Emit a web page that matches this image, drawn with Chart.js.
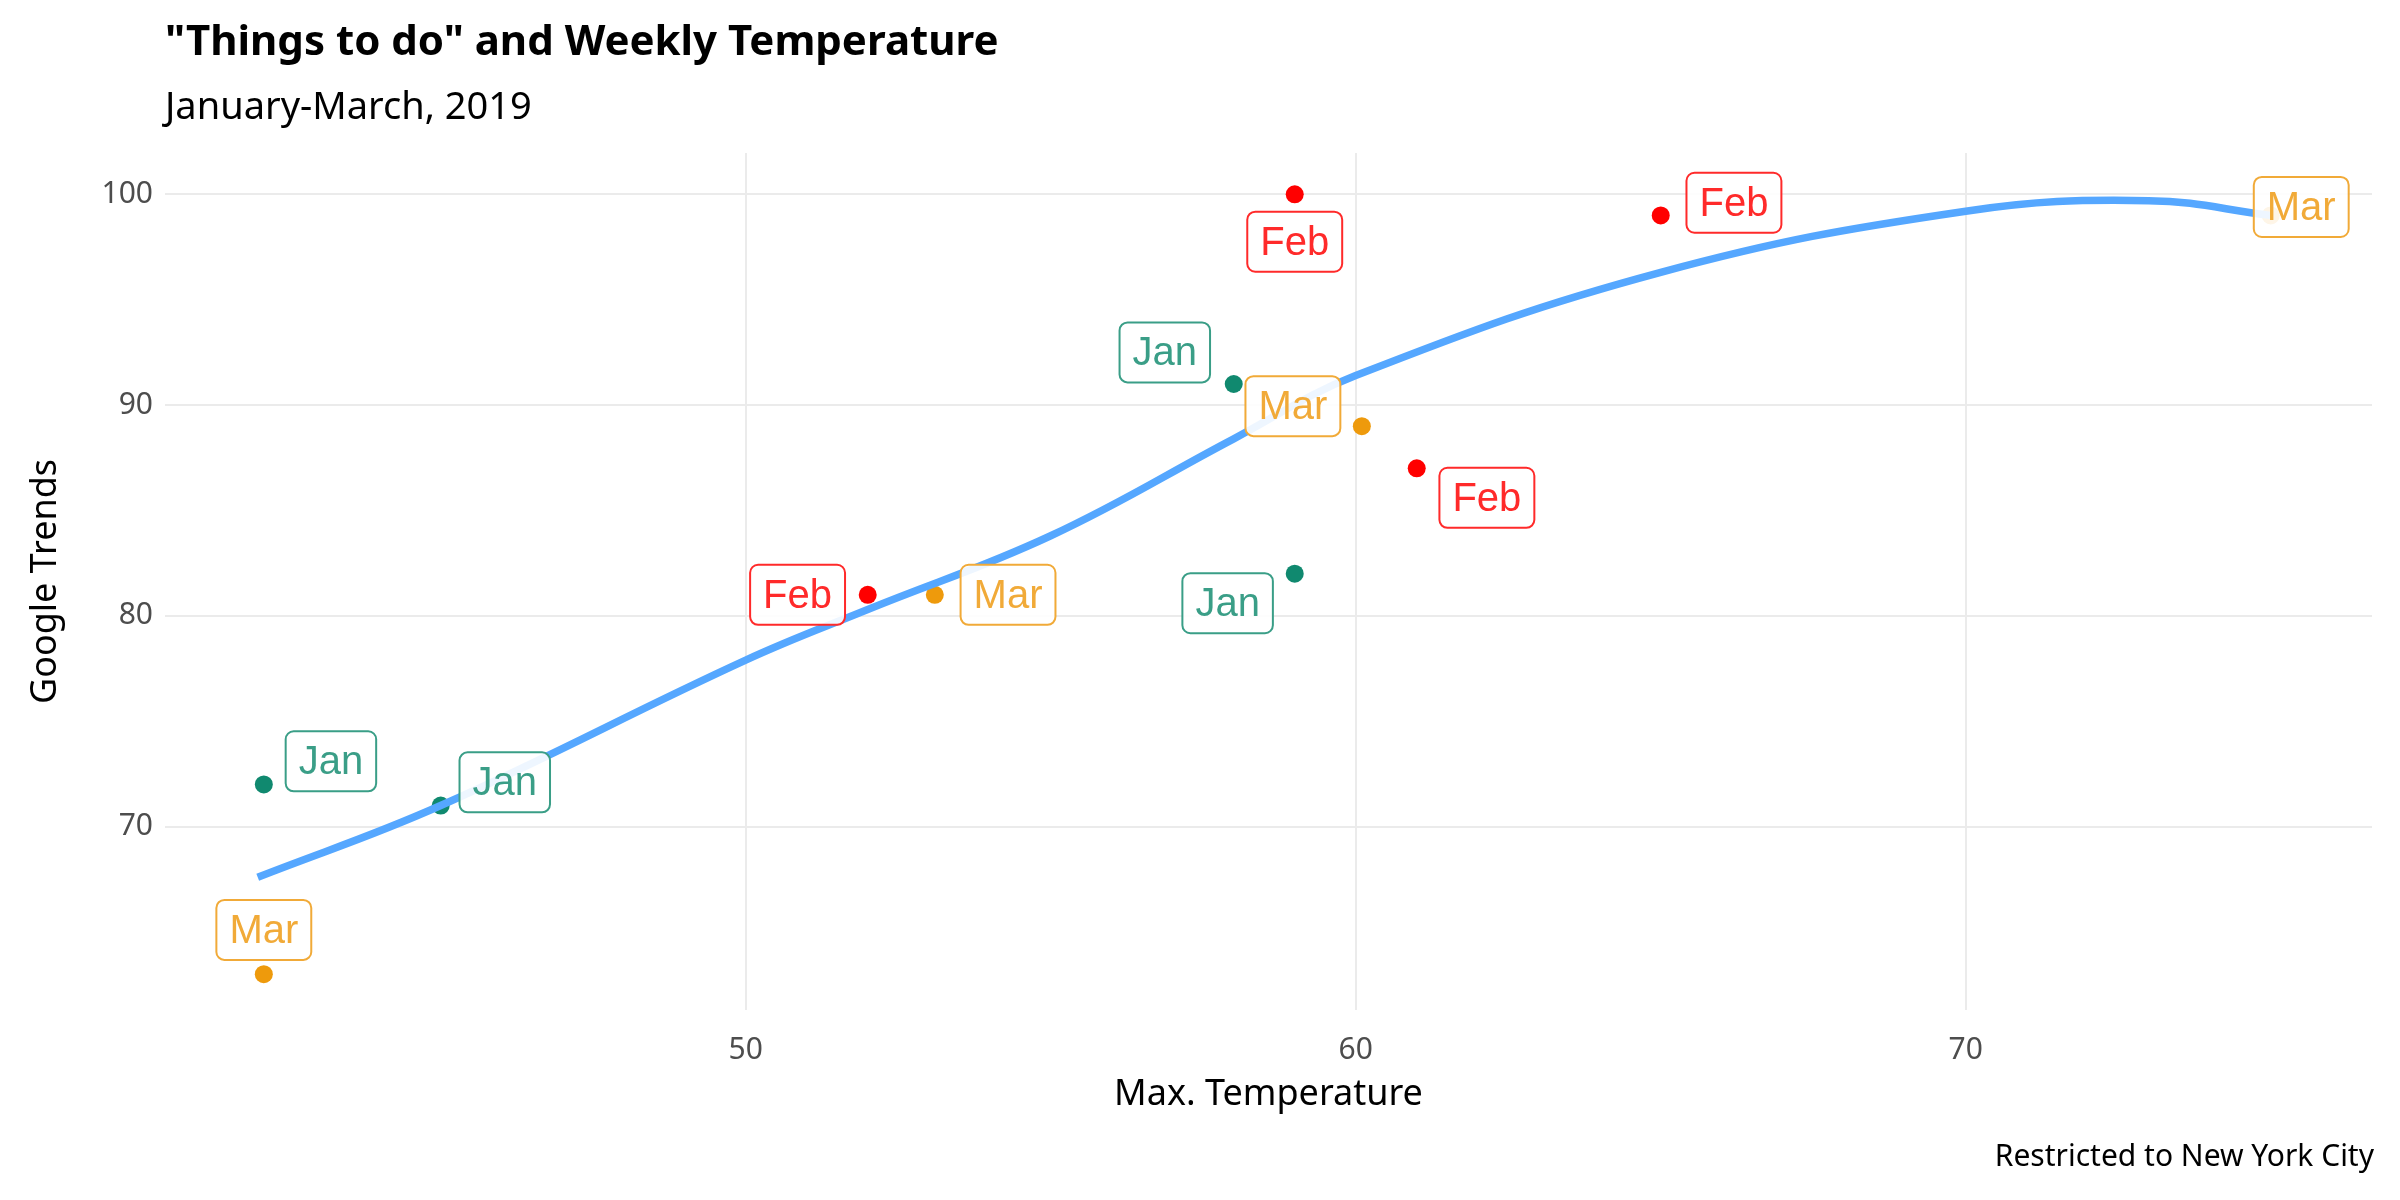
<!DOCTYPE html>
<html><head><meta charset="utf-8">
<script src="https://cdn.jsdelivr.net/npm/chart.js@4"></script>
<style>html,body{margin:0;padding:0;background:#fff}#w{width:2400px;height:1200px}</style>
</head><body><div id="w"><canvas id="c"></canvas></div>
<script>
const months = ["Jan","Jan","Mar","Feb","Mar","Jan","Jan","Feb","Mar","Feb","Feb","Mar"];
const temps  = [42.1,45,42.1,52,53.1,59,58,59,60.1,61,65,75];
const trends = [72,71,63,81,81,82,91,100,89,87,99,99];
const labelX = [43.2,46.05,42.1,50.85,54.3,57.9,56.87,59,58.97,62.15,66.2,75.5];
const labelY = [73.1,72.1,65.1,81,81,80.6,92.5,97.75,89.95,85.6,99.6,99.4];
const fitX = [42,45,50,52,55,58,60,65,70,73,75];
const fitY = [67.6,71,77.9,80.3,83.8,88.4,91.4,96.3,99.2,99.7,99.0];
const xTicks = [50,60,70];
const yTicks = [70,80,90,100];
const pointColor = {Jan:"#10896F",Feb:"#FF0000",Mar:"#EE9A0C"};
const textColor = {Jan:"#3A9E87",Feb:"#FF2A2A",Mar:"#F1AA38"};
const FONT = "'Noto Sans', sans-serif";

const overlay = {
  id:'overlay',
  afterDatasetsDraw(chart){
    const ctx = chart.ctx, xs = chart.scales.x, ys = chart.scales.y;
    ctx.save();
    ctx.font = "40px 'Liberation Sans', Arial, sans-serif";
    ctx.textAlign='center'; ctx.textBaseline='middle';
    months.forEach((m,i)=>{
      const cx = xs.getPixelForValue(labelX[i]), cy = ys.getPixelForValue(labelY[i]);
      const w = ctx.measureText(m).width + 26, h = 60;
      ctx.beginPath();
      ctx.roundRect(cx-w/2, cy-h/2, w, h, 8);
      ctx.fillStyle='rgba(255,255,255,0.9)'; ctx.fill();
      ctx.lineWidth=2; ctx.strokeStyle=textColor[m]; ctx.stroke();
      ctx.fillStyle=textColor[m];
      ctx.fillText(m, cx, cy+2);
    });
    ctx.restore();
  },
  afterDraw(chart){
    const ctx = chart.ctx;
    ctx.save();
    ctx.fillStyle='#000'; ctx.textBaseline='middle'; ctx.textAlign='left';
    ctx.font = "bold 42px "+FONT;
    ctx.fillText('"Things to do" and Weekly Temperature', 165, 43);
    ctx.font = "38px "+FONT;
    ctx.fillText('January-March, 2019', 165, 108);
    ctx.textAlign='right';
    ctx.font = "30px "+FONT;
    ctx.fillText('Restricted to New York City', 2374, 1157);
    ctx.restore();
  }
};

new Chart(document.getElementById('c'), {
  data:{
    datasets:[
      {type:'line', data:fitX.map((x,i)=>({x,y:fitY[i]})), borderColor:'#55A7FF', borderWidth:7.5,
       pointRadius:0, tension:0.4, order:1},
      {type:'scatter', data:temps.map((x,i)=>({x,y:trends[i]})),
       pointBackgroundColor:months.map(m=>pointColor[m]), pointBorderWidth:0, pointRadius:9, order:2}
    ]
  },
  options:{
    responsive:true, maintainAspectRatio:false, animation:false,
    layout:{padding:{top:153,right:28,left:20,bottom:80}},
    plugins:{legend:{display:false},tooltip:{enabled:false}},
    scales:{
      x:{type:'linear', min:40.48, max:76.66,
        afterBuildTicks(s){s.ticks=xTicks.map(v=>({value:v}));},
        afterFit(s){s.height=110;},
        grid:{color:'#EBEBEB',lineWidth:2,drawTicks:false},
        border:{display:false},
        ticks:{font:{size:30,family:FONT},color:'#4D4D4D',padding:22},
        title:{display:true,text:'Max. Temperature',font:{size:36,family:FONT},color:'#000',padding:{top:6}}},
      y:{type:'linear', min:61.3, max:101.96,
        afterBuildTicks(s){s.ticks=yTicks.map(v=>({value:v}));},
        afterFit(s){s.width=145;},
        grid:{color:'#EBEBEB',lineWidth:2,drawTicks:false},
        border:{display:false},
        ticks:{font:{size:30,family:FONT},color:'#4D4D4D',padding:12},
        title:{display:true,text:'Google Trends',font:{size:36,family:FONT},color:'#000',padding:{bottom:8}}}
    }
  },
  plugins:[overlay]
});
</script></body></html>
